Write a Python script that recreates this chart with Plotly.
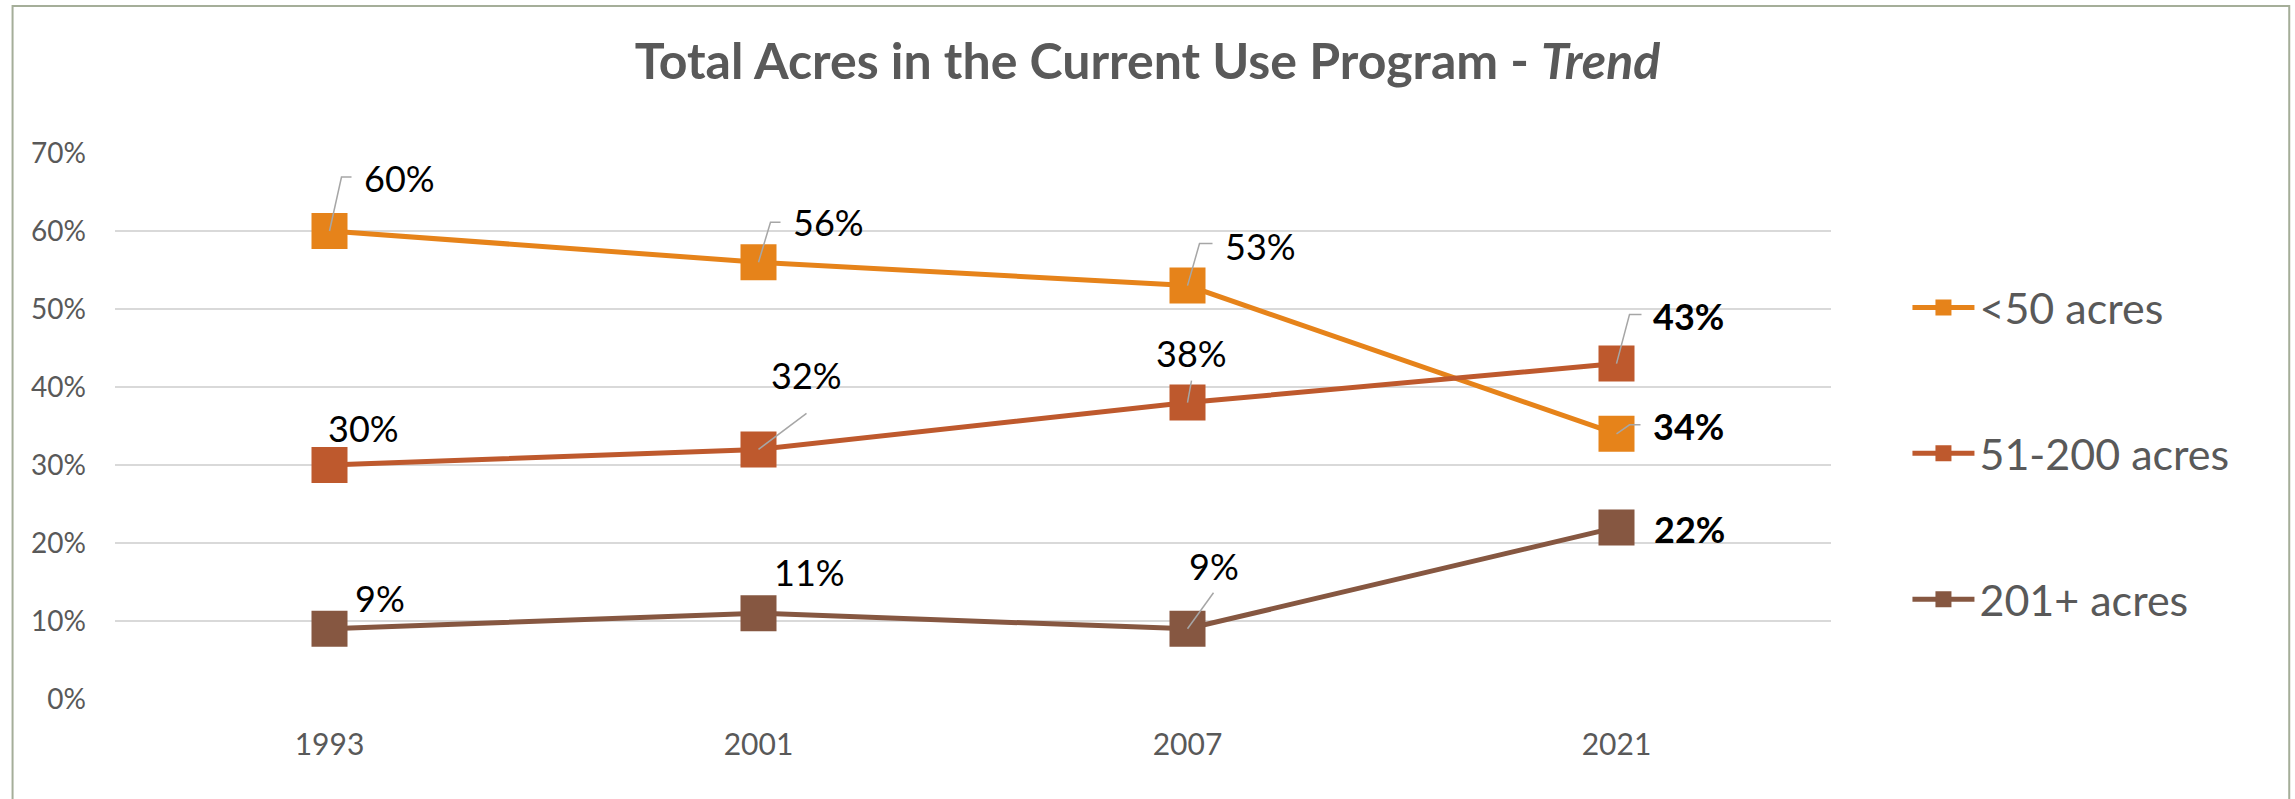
import plotly.graph_objects as go

# ---------------- data ----------------
years = ["1993", "2001", "2007", "2021"]
series_names = ["<50 acres", "51-200 acres", "201+ acres"]
share_lt50 = [0.60, 0.56, 0.53, 0.34]
share_51_200 = [0.30, 0.32, 0.38, 0.43]
share_201_plus = [0.09, 0.11, 0.09, 0.22]
y_tick_vals = [0.0, 0.1, 0.2, 0.3, 0.4, 0.5, 0.6, 0.7]
y_tick_text = ["0%", "10%", "20%", "30%", "40%", "50%", "60%", "70%"]
title_text = "Total Acres in the Current Use Program - <i>Trend</i>"

# ---------------- styling ----------------
colors = ["#E6831A", "#BE592D", "#865741"]
FONT = "Lato"
# label placement relative to its point, in px: (xshift, yshift, anchor)
label_place = [
    [(32, 53, "left"), (32, 40, "left"), (35, 40, "left"), (34, 8, "left")],
    [(34, 37, "center"), (48, 74, "center"), (4, 50, "center"), (34, 48, "left")],
    [(50, 31, "center"), (51, 41, "center"), (26, 63, "center"), (35, -2, "left")],
]
# leader lines, px offsets from the point (None = no leader)
leader_paths = [
    ["M0,0L12,54L22,54", "M0,0L12,40L22,40", "M0,0L12,42L25,42", "M0,0L13,9L24,9"],
    [None, "M0,0L48,36", "M0,0L4,22", "M0,0L13,49L25,49"],
    [None, None, "M0,0L26,36", None],
]

W, H = 2295, 799
ML, MR, MT, MB = 114.5, 463.5, 153, 100
PW, PH = W - ML - MR, H - MT - MB

fig = go.Figure()
all_series = [share_lt50, share_51_200, share_201_plus]
for i, (name, vals) in enumerate(zip(series_names, all_series)):
    fig.add_trace(go.Scatter(
        x=years, y=vals, name=name, mode="lines+markers",
        line=dict(color=colors[i], width=5),
        marker=dict(symbol="square", size=36, color=colors[i],
                    line=dict(width=0)),
        legendgroup=name, hoverinfo="skip",
    ))

annotations = []
shapes = [dict(type="rect", xref="paper", yref="paper",
               x0=(12 - ML) / PW, x1=(2290 - ML) / PW,
               y0=(699 - 820) / PH, y1=(699 - 6) / PH,
               line=dict(color="#A5AE99", width=2), layer="below")]
for i, vals in enumerate(all_series):
    for j, v in enumerate(vals):
        dx, dy, anchor = label_place[i][j]
        txt = f"{round(v * 100)}%"
        bold = (j == len(years) - 1)
        annotations.append(dict(
            x=j, y=v, xref="x", yref="y",
            text=f"<b>{txt}</b>" if bold else txt,
            showarrow=False, xshift=dx, yshift=dy,
            xanchor=anchor, yanchor="middle",
            font=dict(family=FONT, size=36, color="#000000"),
        ))
        p = leader_paths[i][j]
        if p:
            shapes.append(dict(
                type="path", xref="x", yref="y",
                xsizemode="pixel", ysizemode="pixel",
                xanchor=j, yanchor=v, path=p,
                line=dict(color="#A6A6A6", width=1.5), layer="above",
            ))

fig.update_layout(
    width=W, height=H,
    margin=dict(l=ML, r=MR, t=MT, b=MB),
    paper_bgcolor="white", plot_bgcolor="white",
    title=dict(text=f"<b>{title_text}</b>", x=0.5, xref="container",
               xanchor="center", y=1 - 61 / H, yref="container",
               yanchor="middle",
               font=dict(family=FONT, size=50, color="#595959")),
    xaxis=dict(type="category", range=[-0.5, 3.5], showgrid=False,
               showline=False, zeroline=False, ticks="",
               tickfont=dict(family=FONT, size=30, color="#595959"),
               ticklabelstandoff=25),
    yaxis=dict(range=[0, 0.7], tickvals=y_tick_vals, ticktext=y_tick_text,
               showgrid=True, gridcolor="#D9D9D9", gridwidth=2,
               zeroline=False, showline=False, ticks="",
               tickfont=dict(family=FONT, size=28, color="#595959"),
               ticklabelstandoff=28),
    legend=dict(x=(1908 - ML) / PW, xanchor="left", y=(699 - 273) / PH,
                yanchor="top", font=dict(family=FONT, size=43, color="#595959"),
                tracegroupgap=87, itemwidth=62, bgcolor="rgba(0,0,0,0)"),
    showlegend=True,
    annotations=annotations,
    shapes=shapes,
)

fig.write_html("out.html", config={"displayModeBar": False},
               post_script="document.body.style.margin='0';document.body.style.overflow='hidden';")
